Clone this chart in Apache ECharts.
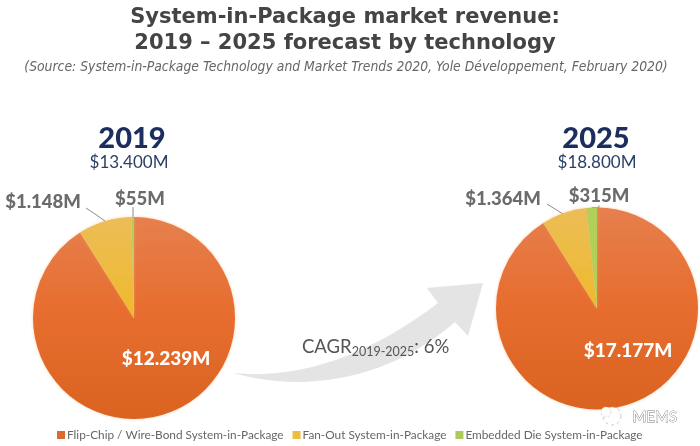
<!DOCTYPE html>
<html><head><meta charset="utf-8">
<style>html,body{margin:0;padding:0;background:#fff}#c{width:700px;height:446px}</style>
<script src="https://cdn.jsdelivr.net/npm/echarts@6/dist/echarts.min.js"></script>
</head><body><div id="c"></div>
<script>
const categories = ['Flip-Chip / Wire-Bond System-in-Package','Fan-Out System-in-Package','Embedded Die System-in-Package'];
const values2019 = [12239,1148,55];
const values2025 = [17177,1364,315];
const labels2019 = ['$12.239M','$1.148M','$55M'];
const labels2025 = ['$17.177M','$1.364M','$315M'];
const years = ['2019','2025'];
const totals = ['$13.400M','$18.800M'];
const orangeGrad = {type:'linear',x:0,y:0,x2:0,y2:1,colorStops:[{offset:0,color:'#e6804e'},{offset:0.45,color:'#e76e30'},{offset:1,color:'#db6320'}]};
const yellowGrad = {type:'linear',x:0,y:0,x2:0,y2:1,colorStops:[{offset:0,color:'#ecbd58'},{offset:1,color:'#eeba2a'}]};
const sliceColors = [orangeGrad,yellowGrad,'#b2cf58'];
const legendColors = ['#dc6a30','#eebc40','#acc95a'];
const font = 'Lato';
echarts.graphic.registerShape('cagrArrow', echarts.graphic.extendPath('M233 373 C300 392 385 383 455 322 L468 336 L483 283 L427 288 L438 303 C370 355 300 380 233 373 Z', {}));
function pie(name,vals,labels,center,radius,pos,lines){
  return {type:'pie',name,center,radius,startAngle:90,clockwise:true,animation:false,silent:true,
    data:vals.map((v,i)=>({name:categories[i],value:v,
      itemStyle:{color:sliceColors[i],shadowBlur:3,shadowColor:'rgba(240,170,110,0.6)'},
      label:{show:true,position:i===0?'inside':'outside',formatter:labels[i],overflow:'none',
        fontFamily:font,fontWeight:900,fontSize:i===0?19:18.5,color:i===0?'#fff':'#6b6b6b'},
      labelLine:{show:i!==0,length:6,length2:6,smooth:false,lineStyle:{color:'#8a8a8a',width:1}}})),
    labelLayout:p=>{const q=pos[p.dataIndex];const l=lines[p.dataIndex];
      return {x:q[0],y:q[1],align:'center',verticalAlign:'middle',hideOverlap:false,moveOverlap:false,labelLinePoints:l||undefined};}
  };
}
const chart = echarts.init(document.getElementById('c'));
chart.setOption({
  backgroundColor:'#fff',animation:false,
  title:[
    {text:'System-in-Package market revenue:\n2019 – 2025 forecast by technology',left:340,top:0,textAlign:'center',
      textStyle:{fontFamily:'DejaVu Sans',fontWeight:'bold',fontSize:21,lineHeight:26,color:'#444'}},
    {text:'(Source: System-in-Package Technology and Market Trends 2020, Yole Développement, February 2020)',left:341,top:55,textAlign:'center',
      textStyle:{fontFamily:'DejaVu Sans Condensed',fontStyle:'italic',fontWeight:'normal',fontSize:13.8,color:'#666'}},
    {text:years[0],left:127,top:119,textAlign:'center',textStyle:{fontFamily:font,fontWeight:900,fontSize:29,color:'#1c2e5e'}},
    {text:totals[0],left:124,top:149,textAlign:'center',textStyle:{fontFamily:font,fontWeight:'normal',fontSize:17,color:'#2a3f66'}},
    {text:years[1],left:591,top:119,textAlign:'center',textStyle:{fontFamily:font,fontWeight:900,fontSize:29,color:'#1c2e5e'}},
    {text:totals[1],left:592,top:149,textAlign:'center',textStyle:{fontFamily:font,fontWeight:'normal',fontSize:17,color:'#2a3f66'}}
  ],
  legend:{data:categories.map((c,i)=>({name:c,itemStyle:{color:legendColors[i]}})),left:52,top:424,itemWidth:8,itemHeight:8,itemGap:9,icon:'rect',selectedMode:false,
    textStyle:{fontFamily:font,fontSize:11.8,color:'#666',padding:[0,0,0,-3]}},
  series:[
    pie('2019',values2019,labels2019,[134,318],101,[[166,359],[43,202],[140,199]],
      [null,[[86,208],[95,214],[105,221]],[[133,207],[133,212],[133,217]]]),
    pie('2025',values2025,labels2025,[597,308.5],101,[[628,351],[503,199],[599,196]],
      [null,[[547,204],[555,209],[563,214]],null])
  ],
  graphic:[
    {type:'cagrArrow',z:0,style:{fill:'#e4e4e4'},silent:true},
    {type:'text',left:302,top:338,z:5,silent:true,style:{
      text:'{a|CAGR}{b|2019-2025}{a|: 6%}',
      rich:{a:{fontFamily:font,fontSize:18.5,fill:'#555'},b:{fontFamily:font,fontSize:12.5,fill:'#555',padding:[8,0,0,0]}}}},
    {type:'circle',z:5,silent:true,shape:{cx:612,cy:416,r:9},style:{fill:'#fff',stroke:'#bbb',lineWidth:0.8,lineDash:[3,3]}},
    {type:'circle',z:5,silent:true,shape:{cx:606,cy:412,r:5},style:{fill:'#fff',stroke:'#ccc',lineWidth:0.8,lineDash:[2,2]}},
    {type:'text',left:632,top:409,z:5,silent:true,style:{text:'MEMS',fontFamily:font,fontSize:15,fill:'#fff',stroke:'#777',lineWidth:0.8}}
  ]
});
</script></body></html>
